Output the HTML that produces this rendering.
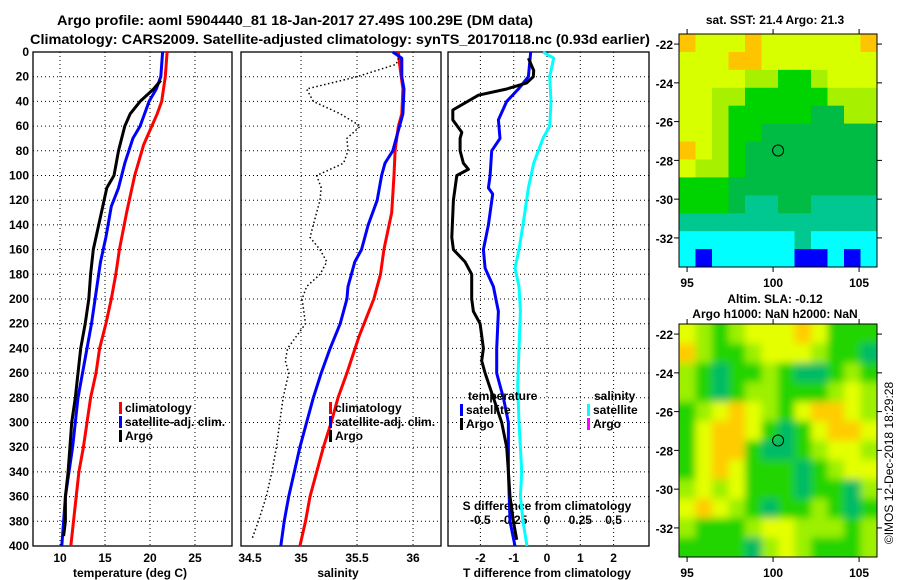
<!DOCTYPE html>
<html><head><meta charset="utf-8"><style>
body{margin:0;background:#fff;}
svg{display:block;font-family:"Liberation Sans",sans-serif;}
text{font-weight:bold;font-size:12px;fill:#000;}
</style></head><body>
<svg id="chart" width="900" height="580" viewBox="0 0 900 580" xmlns="http://www.w3.org/2000/svg">
<text x="295" y="25" text-anchor="middle" style="font-size:14px" textLength="476" lengthAdjust="spacingAndGlyphs">Argo profile: aoml 5904440_81 18-Jan-2017 27.49S 100.29E (DM data)</text>
<text x="340" y="44" text-anchor="middle" style="font-size:14px" textLength="620" lengthAdjust="spacingAndGlyphs">Climatology: CARS2009. Satellite-adjusted climatology: synTS_20170118.nc (0.93d earlier)</text>
<g id="g"></g>
</svg>
<script>
// ---- data ----
const depthTicks=[0,20,40,60,80,100,120,140,160,180,200,220,240,260,280,300,320,340,360,380,400];
const tTicks=[10,15,20,25];
const sTicks=[34.5,35,35.5,36];
const dTTicks=[-2,-1,0,1,2];
const dSTicks=[-0.5,-0.25,0,0.25,0.5];
const dSTickLabels=["-0.5","-0.25","0","0.25","0.5"];

const tClimDepth=[0,20,40,50,75,100,130,160,180,200,220,240,260,280,300,320,340,360,380,400];
const tClim=[21.9,21.7,21.3,20.8,19.3,18.3,17.4,16.6,16.2,15.7,15.1,14.4,14.0,13.4,13.0,12.6,12.1,11.8,11.5,11.2];
const tSatDepth=[0,20,30,40,60,70,90,110,125,150,170,190,200,220,240,260,280,300,320,340,360,380,400];
const tSat=[21.4,21.2,20.7,19.9,18.9,18.1,17.2,16.5,15.7,15.1,14.5,14.1,13.9,13.5,13.0,12.5,12.0,11.7,11.4,11.0,10.6,10.4,10.2];
const tArgoDepth=[23,30,40,50,60,80,100,110,130,160,180,200,220,240,260,280,300,320,340,360,380,392];
const tArgo=[21.2,20.4,18.9,17.8,17.2,16.5,16.0,15.2,14.6,13.7,13.4,13.2,12.8,12.3,12.0,11.7,11.3,11.1,10.9,10.6,10.6,10.4];

const sClimDepth=[0,10,30,50,60,80,100,130,160,180,200,230,260,280,300,320,340,360,380,400];
const sClim=[35.87,35.88,35.91,35.90,35.87,35.84,35.83,35.81,35.74,35.71,35.65,35.52,35.41,35.33,35.27,35.20,35.14,35.08,35.04,34.99];
const sSatDepth=[0,5,20,30,50,70,80,90,100,120,140,160,170,190,200,220,240,260,280,300,320,340,360,380,400];
const sSat=[35.82,35.90,35.90,35.92,35.91,35.85,35.82,35.75,35.72,35.68,35.60,35.54,35.48,35.42,35.41,35.35,35.26,35.18,35.11,35.05,34.99,34.94,34.89,34.85,34.82];
const sArgoDepth=[5,10,20,30,40,50,60,70,80,90,100,110,120,140,150,160,170,180,190,200,220,240,250,260,280,300,320,340,360,380,395];
const sArgo=[35.87,35.85,35.50,35.05,35.11,35.35,35.53,35.41,35.42,35.38,35.14,35.18,35.17,35.11,35.08,35.17,35.23,35.17,35.05,35.01,35.04,34.88,34.86,34.89,34.84,34.81,34.78,34.74,34.69,34.62,34.56];

const dTArgoDepth=[5,15,20,25,30,35,47,55,65,70,80,90,95,100,120,150,160,170,180,200,210,220,240,250,260,280,300,320,340,360,380,395];
const dTArgo=[-0.56,-0.40,-0.41,-0.61,-1.21,-2.06,-2.83,-2.83,-2.56,-2.61,-2.61,-2.51,-2.36,-2.71,-2.81,-2.86,-2.81,-2.46,-2.26,-2.26,-2.21,-2.01,-1.91,-1.96,-1.86,-1.61,-1.36,-1.21,-1.16,-1.11,-1.01,-0.91];
const dTSatDepth=[0,20,30,40,55,70,80,100,110,115,140,160,175,190,210,240,260,270,280,300,340,380,400];
const dTSat=[-0.49,-0.56,-0.86,-1.21,-1.46,-1.41,-1.66,-1.71,-1.76,-1.63,-1.76,-1.91,-1.86,-1.61,-1.46,-1.51,-1.51,-1.41,-1.31,-1.16,-1.16,-1.11,-0.96];
const dSSatDepth=[0,5,20,40,60,70,90,110,140,160,175,190,210,240,270,300,320,340,360,380,400];
const dSSat=[-0.03,0.05,0.02,0.03,0.02,-0.03,-0.10,-0.14,-0.18,-0.21,-0.24,-0.21,-0.20,-0.21,-0.22,-0.21,-0.20,-0.19,-0.20,-0.18,-0.15];

// map colour grids (coarse)
const sstRows=["OYYYOYYYYYYO","YYYOOYYYYYYY","YYYYLLGGLYYY","YYLLGGGGGLLL","YYLGGGGGDDLL","YYLGGDDDDDDD","OYLGDDDDDDDD","YLLGDDDDDDDD","GGGDDDDDDDDD","GGGDTTDDTTTT","TTTTTTTTTTTT","CCCCCCCTCCCC","CBCCCCCBBCBC"];
const sstColors={O:"#ffc400",Y:"#d8ff00",L:"#a6f000",G:"#00d400",D:"#00bb44",T:"#00c890",C:"#00ffff",B:"#0000ff"};
const slaRows=["YLGLYYYOYGGG","OLGGLYYYLGGT","LGTGGLGTTGLG","LGTGLLGGGLYL","GLYOYLGYOOYL","GYOOYGTGYOOY","GYOOGTTGLYYL","GYOYGGGTGLYY","LYLYGGGTGGTL","YOYLGTGGLGTG","LGGGLYYLLLGL","GGGGTLYLGGGL"];
const slaColors={Y:"#e4ff00",O:"#ffcc00",L:"#9cf000",G:"#22d400",T:"#00bb66"};
const argoLon=100.29, argoLat=-27.49;

// ---- drawing ----
const NS="http://www.w3.org/2000/svg";
const G=document.getElementById('g');
function el(tag,attrs,parent){const e=document.createElementNS(NS,tag);for(const k in attrs)e.setAttribute(k,attrs[k]);(parent||G).appendChild(e);return e;}
const yTop=52,yBot=546;
const yD=d=>yTop+(d/400)*(yBot-yTop);
const xT=t=>60+(t-10)*9;
const xS=s=>301+(s-35)*112;
const xdT=t=>547+t*33.3;
const xdS=s=>547+s*133.2;
const panels=[[33,232,'temperature-panel'],[241,441,'salinity-panel'],[448,649,'difference-panel']];
const vgrid=[tTicks.map(xT),sTicks.filter(s=>s>34.6).map(xS),dTTicks.map(xdT)];
panels.forEach((p,i)=>{
  const gp=el('g',{});
  
  
  depthTicks.forEach(d=>{if(d>0&&d<400){const l=el('line',{x1:p[0],x2:p[1],y1:yD(d),y2:yD(d),stroke:'#000','stroke-width':1,'stroke-dasharray':'1,3'},gp);}});
  vgrid[i].forEach(x=>{const l=el('line',{x1:x,x2:x,y1:yTop,y2:yBot,stroke:'#000','stroke-width':1,'stroke-dasharray':'1,3'},gp);});
  const r=el('rect',{x:p[0],y:yTop,width:p[1]-p[0],height:yBot-yTop,fill:'none',stroke:'#000','stroke-width':1.3},gp);
  
});
depthTicks.forEach(d=>{const t=el('text',{x:29,y:yD(d)+4,'text-anchor':'end'});t.textContent=d;});
function xlabels(ticks,fx,y,labels,name){ticks.forEach((v,i)=>{const t=el('text',{x:fx(v),y:y,'text-anchor':'middle'});t.textContent=labels?labels[i]:v;});}
xlabels(tTicks,xT,562,null,'temperature-tick-label');
xlabels(sTicks,s=>s===34.5?250:xS(s),562,null,'salinity-tick-label');
xlabels(dTTicks,xdT,562,null,'t-diff-tick-label');
xlabels(dSTicks,xdS,524,dSTickLabels,'s-diff-tick-label');
function label(x,y,txt,name,extra){const t=el('text',Object.assign({x:x,y:y},extra||{}));t.textContent=txt;return t;}
label(130,577,'temperature (deg C)','temperature-axis-title',{'text-anchor':'middle'});
label(338,577,'salinity','salinity-axis-title',{'text-anchor':'middle'});
label(547,577,'T difference from climatology','t-diff-axis-title',{'text-anchor':'middle'});
label(547,510,'S difference from climatology','s-diff-axis-title',{'text-anchor':'middle'});

function line(depths,vals,fx,color,w,dash,name){
  const pts=depths.map((d,i)=>fx(vals[i]).toFixed(1)+','+yD(d).toFixed(1)).join(' ');
  const a={points:pts,fill:'none',stroke:color,'stroke-width':w,'stroke-linejoin':'round'};
  if(dash)a['stroke-dasharray']=dash;
  const p=el('polyline',a);
  
  
}
line(tClimDepth,tClim,xT,'#ff0000',3,null,'temp-climatology-line');
line(tSatDepth,tSat,xT,'#0000ff',3,null,'temp-satellite-line');
line(tArgoDepth,tArgo,xT,'#000',3,null,'temp-argo-line');
line(sClimDepth,sClim,xS,'#ff0000',3,null,'sal-climatology-line');
line(sSatDepth,sSat,xS,'#0000ff',3,null,'sal-satellite-line');
line(sArgoDepth,sArgo,xS,'#000',1.5,'1.5,2.5','sal-argo-line');
line(dSSatDepth,dSSat,xdS,'#00ffff',3,null,'sdiff-satellite-line');
line(dTSatDepth,dTSat,xdT,'#0000ff',3,null,'tdiff-satellite-line');
line(dTArgoDepth,dTArgo,xdT,'#000',3,null,'tdiff-argo-line');

function legend(x,y,color,txt,name){
  const r=el('rect',{x:x,y:y-10,width:3,height:12,fill:color});
  
  label(x+6,y,txt,name);
}
legend(119,412,'#ff0000','climatology','legend-temp-climatology');
legend(119,426,'#0000ff','satellite-adj. clim.','legend-temp-satellite');
legend(119,440,'#000','Argo','legend-temp-argo');
legend(329,412,'#ff0000','climatology','legend-sal-climatology');
legend(329,426,'#0000ff','satellite-adj. clim.','legend-sal-satellite');
legend(329,440,'#000','Argo','legend-sal-argo');
label(468,400,'temperature','legend-temperature-header');
label(594,400,'salinity','legend-salinity-header');
legend(460,414,'#0000ff','satellite','legend-tdiff-satellite');
legend(460,428,'#000','Argo','legend-tdiff-argo');
legend(587,414,'#00ffff','satellite','legend-sdiff-satellite');
legend(587,428,'#ff00ff','Argo','legend-sdiff-argo');

// maps
const mx0=679,mx1=877;
const lonX=lon=>mx0+(lon-94.53)*17.2;
function drawMap(rows,colors,top,bot,name,blur){
  const latY=lat=>top+(-21.48-lat)*((bot-top)/12.02);
  const gm=el('g',{});
  
  const cw=(mx1-mx0)/rows[0].length, ch=(bot-top)/rows.length;
  const cl=el('clipPath',{id:name+'-clip'},gm);el('rect',{x:mx0,y:top,width:mx1-mx0,height:bot-top},cl);
  const inner=el('g',{'clip-path':'url(#'+name+'-clip)'},gm);
  if(blur){const f=el('filter',{id:name+'-blur',x:'-10%',y:'-10%',width:'120%',height:'120%'},gm);el('feGaussianBlur',{stdDeviation:4},f);inner.setAttribute('filter','url(#'+name+'-blur)');
    el('rect',{x:mx0-20,y:top-20,width:mx1-mx0+40,height:bot-top+40,fill:colors.G},inner);}
  rows.forEach((row,r)=>{[...row].forEach((c,k)=>{
    const ex=blur?(k===0?-20:0):0, ey=blur?(r===0?-20:0):0;
    const ew=blur&&k===row.length-1?20:0, eh=blur&&r===rows.length-1?20:0;
    const rc=el('rect',{x:mx0+k*cw+ex,y:top+r*ch+ey,width:cw+0.6-ex+ew,height:ch+0.6-ey+eh,fill:colors[c]},inner);
    
  });});
  const fr=el('rect',{x:mx0,y:top,width:mx1-mx0,height:bot-top,fill:'none',stroke:'#000','stroke-width':1},gm);
  
  [-22,-24,-26,-28,-30,-32].forEach(lat=>{const y=latY(lat);
    el('line',{x1:mx0-5,x2:mx0,y1:y,y2:y,stroke:'#000'},gm);el('line',{x1:mx1,x2:mx1+5,y1:y,y2:y,stroke:'#000'},gm);
    const t=el('text',{x:mx0-6,y:y+5,'text-anchor':'end'},gm);t.textContent=lat;});
  [95,100,105].forEach(lon=>{const x=lonX(lon);
    el('line',{x1:x,x2:x,y1:bot,y2:bot+5,stroke:'#000'},gm);el('line',{x1:x,x2:x,y1:top-5,y2:top,stroke:'#000'},gm);
    const t=el('text',{x:x,y:bot+20,'text-anchor':'middle'},gm);t.textContent=lon;});
  const c=el('circle',{cx:lonX(argoLon),cy:latY(argoLat),r:5.5,fill:'none',stroke:'#000','stroke-width':1},gm);
  
}
drawMap(sstRows,sstColors,34,267,'sst-map',false);
drawMap(slaRows,slaColors,324,557,'sla-map',true);
label(775,24,'sat. SST: 21.4 Argo: 21.3','sst-map-title',{'text-anchor':'middle'});
label(775,303,'Altim. SLA: -0.12','sla-map-title',{'text-anchor':'middle'});
label(775,318,'Argo h1000: NaN h2000: NaN','sla-map-subtitle',{'text-anchor':'middle'});
label(0,0,'©IMOS 12-Dec-2018 18:29:28','imos-timestamp',{transform:'translate(893,463) rotate(-90)','text-anchor':'middle',style:'font-weight:normal;font-size:12px'});
</script>
</body></html>
